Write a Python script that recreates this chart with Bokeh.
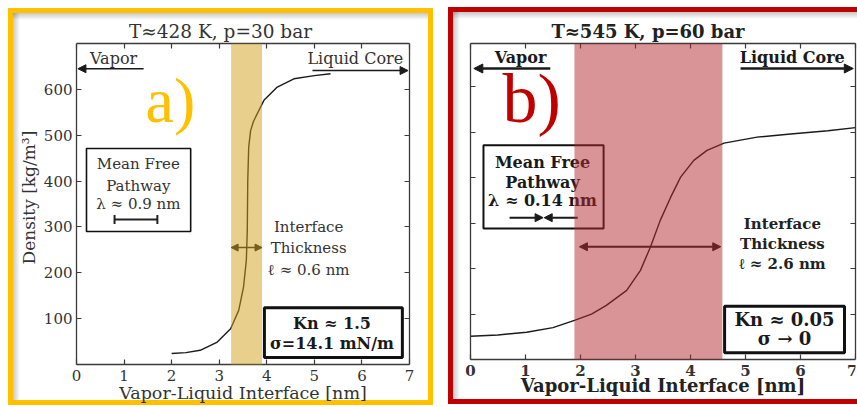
from bokeh.plotting import figure
from bokeh.models import (Range1d, FixedTicker, LinearAxis, BoxAnnotation, Label,
                          Arrow, NormalHead, TeeHead)
from bokeh.layouts import row
from bokeh.embed import file_html
from bokeh.resources import INLINE

# ---------------- data ----------------
x_ticks = [0, 1, 2, 3, 4, 5, 6, 7]
y_ticks = [100, 200, 300, 400, 500, 600]
x_title = "Vapor-Liquid Interface [nm]"
y_title = "Density [kg/m³]"

# panel a) T~428 K, p=30 bar
a_pos = [2.0, 2.3, 2.6, 2.96, 3.24, 3.41, 3.51, 3.57, 3.59, 3.60, 3.62, 3.66,
         3.72, 3.80, 3.94, 4.22, 4.57, 5.0, 5.34]
a_density = [24, 26, 31, 49, 78, 118, 168, 227, 292, 401, 474, 510,
             530, 547, 576, 605, 623, 630, 634]
a_interface = [3.25, 3.9]
a_mfp = [0.8, 1.7]

# panel b) T~545 K, p=60 bar
b_pos = [0.0, 0.5, 1.02, 1.5, 1.89, 2.2, 2.47, 2.84, 3.09, 3.27, 3.45, 3.64,
         3.82, 4.06, 4.30, 4.61, 5.21, 5.82, 6.5, 7.0]
b_density = [51, 54, 60, 70, 86, 100, 119, 152, 196, 247, 306, 357,
             401, 438, 460, 476, 489, 496, 503, 510]
b_interface = [1.89, 4.58]

SERIF = "DejaVu Serif"
TXT = "#333333"
H = 407


def frame_css(color, bars, shadows):
    """CSS background layers drawing a coloured panel border and a soft inner shadow."""
    imgs, sizes, pos = [], [], []
    for (x, y, w, h) in bars:
        imgs.append(f"linear-gradient({color}, {color})")
        sizes.append(f"{w}px {h}px")
        pos.append(f"{x}px {y}px")
    for (x, y, w, h, d) in shadows:
        imgs.append(f"linear-gradient(to {d}, rgba(0,0,0,0.22), rgba(0,0,0,0))")
        sizes.append(f"{w}px {h}px")
        pos.append(f"{x}px {y}px")
    return {"background-image": ", ".join(imgs),
            "background-size": ", ".join(sizes),
            "background-position": ", ".join(pos),
            "background-repeat": "no-repeat",
            "background-color": "white"}


def make_fig(width, mb, xr, yr, styles, title, tsize, tbold, toffset):
    p = figure(width=width, height=H, x_range=Range1d(*xr), y_range=Range1d(*yr),
               output_backend="svg", toolbar_location=None,
               min_border_left=mb[0], min_border_right=mb[1],
               min_border_top=mb[2], min_border_bottom=mb[3],
               outline_line_color=None, background_fill_color=None,
               border_fill_color=None, styles=styles, title=title)
    p.title.align = "center"
    p.title.text_font = SERIF
    p.title.text_font_size = tsize
    p.title.text_font_style = "bold" if tbold else "normal"
    p.title.text_color = "#222222" if tbold else TXT
    p.title.offset = toffset
    p.title.standoff = 3
    p.xgrid.visible = False
    p.ygrid.visible = False
    return p


def style_axis(ax, ticks, label_size, bold=False, hidden=False, bounds=None):
    ax.ticker = FixedTicker(ticks=ticks)
    if bounds is not None:
        ax.bounds = bounds
    ax.major_tick_in = 5
    ax.major_tick_out = 0
    ax.minor_tick_line_color = None
    ax.axis_line_color = "#3a3a3a"
    ax.axis_line_width = 1.3
    ax.major_tick_line_color = "#3a3a3a"
    ax.major_tick_line_width = 1.2
    ax.major_label_text_font = SERIF
    ax.major_label_text_font_size = label_size
    ax.major_label_text_color = TXT
    ax.major_label_text_font_style = "bold" if bold else "normal"
    ax.major_label_standoff = 3
    if hidden:
        ax.major_label_overrides = {t: "" for t in ticks}
        ax.major_label_text_color = None
        ax.major_label_standoff = 0


def title_axis(p, side, pos, text, size, standoff, bold=False, vertical=False,
               color=TXT):
    """An axis drawn at data 0 that carries only one label: the axis title."""
    ax = LinearAxis(fixed_location=0, ticker=FixedTicker(ticks=[pos]),
                    major_label_overrides={pos: text})
    ax.axis_line_color = None
    ax.major_tick_line_color = None
    ax.minor_tick_line_color = None
    ax.major_label_text_font = SERIF
    ax.major_label_text_font_size = size
    ax.major_label_text_font_style = "bold" if bold else "normal"
    ax.major_label_text_color = color
    ax.major_label_standoff = standoff
    if vertical:
        ax.major_label_orientation = "vertical"
    p.add_layout(ax, side)


def lab(p, x, y, text, size, bold=False, color=TXT, align="center",
        baseline="middle", font=SERIF):
    p.add_layout(Label(x=x, y=y, text=text, text_font=font,
                       text_font_size=f"{size}px",
                       text_font_style="bold" if bold else "normal",
                       text_color=color, text_align=align,
                       text_baseline=baseline))


def arrow(p, x0, y0, x1, y1, lw, hs, double=False, color="#1a1a1a"):
    end = NormalHead(size=hs, fill_color=color, line_color=color)
    start = NormalHead(size=hs, fill_color=color, line_color=color) if double else None
    p.add_layout(Arrow(start=start, end=end, x_start=x0, y_start=y0, x_end=x1, y_end=y1,
                       line_width=lw, line_color=color))


def box(p, l, r, t, b, lw):
    p.add_layout(BoxAnnotation(left=l, right=r, top=t, bottom=b,
                               fill_color="white", fill_alpha=1.0,
                               line_color="#111111", line_alpha=1.0, line_width=lw))


# ---------------- panel a ----------------
# plot box in canvas pixels: x 76..409, y 43..364; the frame reaches the canvas
# left, right and bottom edges so that the fixed axes and their labels stay inside it
W_A = 440
A_L, A_R, A_T, A_B = 76, 409, 43, 364
a_sx = (A_R - A_L) / 7.0
a_sy = (A_B - A_T) / 700.0
css_a = frame_css("#FFC000",
                  [(8, 8, 425, 5), (8, 400, 425, 5), (8, 8, 5, 397), (428, 8, 5, 397)],
                  [(13, 13, 415, 7, "bottom"), (13, 13, 7, 387, "right")])
pa = make_fig(W_A, (0, 0, A_T, 0),
              (-A_L / a_sx, 7 + (W_A - A_R) / a_sx), (-(H - A_B) / a_sy, 700), css_a,
              "T≈428 K, p=30 bar", "18.5px", False, 246.5 - W_A / 2.0)

xa = pa.xaxis[0]
style_axis(xa, x_ticks, "15px", bounds=(0, 7))
xa.fixed_location = 0
xa.major_label_standoff = 5
ya = pa.yaxis[0]
style_axis(ya, y_ticks, "15px", bounds=(0, 700))
ya.fixed_location = 0
ya.major_label_standoff = 4
title_axis(pa, "below", 3.5, x_title, "17.5px", 12)
title_axis(pa, "left", 364, y_title, "17px", 31, vertical=True)

top_a = LinearAxis(); style_axis(top_a, x_ticks, "15px", hidden=True, bounds=(0, 7))
right_a = LinearAxis(fixed_location=7)
style_axis(right_a, y_ticks, "15px", hidden=True, bounds=(0, 700))
pa.add_layout(top_a, "above")
pa.add_layout(right_a, "right")

pa.line(a_pos, a_density, line_color="#1a1a1a", line_width=1.4)

# mean free path box
box(pa, 0.21, 2.40, 471, 290, 1.6)
lab(pa, 1.30, 438, "Mean Free", 15)
lab(pa, 1.30, 390, "Pathway", 15)
lab(pa, 1.30, 351, "λ ≈ 0.9 nm", 15)
pa.add_layout(Arrow(start=TeeHead(size=9, line_width=2, line_color="#222"),
                    end=TeeHead(size=9, line_width=2, line_color="#222"),
                    x_start=a_mfp[0], y_start=316, x_end=a_mfp[1], y_end=316,
                    line_width=2, line_color="#222"))

# Kn box
box(pa, 3.95, 6.85, 124, 15, 3)
lab(pa, 5.37, 89, "Kn ≈ 1.5", 16, bold=True, color="#1a1a1a")
lab(pa, 5.37, 46, "σ=14.1 mN/m", 16, bold=True, color="#1a1a1a")

# vapor / liquid
lab(pa, 0.78, 667, "Vapor", 16)
arrow(pa, 1.41, 645, 0.03, 645, 1.6, 8)
lab(pa, 5.86, 667, "Liquid Core", 16)
arrow(pa, 4.96, 641, 6.97, 641, 1.6, 8)

# interface thickness
arrow(pa, a_interface[0], 255, a_interface[1], 255, 1.6, 7, double=True)
lab(pa, 4.88, 299, "Interface", 15)
lab(pa, 4.88, 255, "Thickness", 15)
lab(pa, 4.88, 207, "ℓ ≈ 0.6 nm", 15)

# band on top
pa.add_layout(BoxAnnotation(left=a_interface[0], right=a_interface[1], bottom=0, top=700,
                            fill_color="#D1A119", fill_alpha=0.5, line_color=None,
                            level="overlay"))

lab(pa, 1.45, 576, "a)", 64, color="#FFC000", align="left", baseline="alphabetic",
    font="Liberation Serif")

# ---------------- panel b ----------------
W_B = 417
B_L, B_R, B_T, B_B = 30, 415, 43, 359
b_sx = (B_R - B_L) / 7.0
b_sy = (B_B - B_T) / 695.0
css_b = frame_css("#C00000",
                  [(8, 7, 420, 5), (8, 399, 420, 5), (8, 7, 5, 397)],
                  [(13, 12, 410, 7, "bottom"), (13, 12, 7, 387, "right")])
pb = make_fig(W_B, (0, W_B - B_R, B_T, 0),
              (-B_L / b_sx, 7), (-(H - B_B) / b_sy, 695), css_b,
              "T≈545 K, p=60 bar", "18px", True, 225 - B_R / 2.0)

xb = pb.xaxis[0]
style_axis(xb, x_ticks, "15px", bold=True, bounds=(0, 7))
xb.fixed_location = 0
xb.major_label_standoff = 5
yb = pb.yaxis[0]
style_axis(yb, y_ticks, "15px", hidden=True, bounds=(0, 695))
yb.fixed_location = 0
title_axis(pb, "below", 3.5, x_title, "18px", 9, bold=True, color="#222222")

top_b = LinearAxis(); style_axis(top_b, x_ticks, "15px", hidden=True, bounds=(0, 7))
right_b = LinearAxis(); style_axis(right_b, y_ticks, "15px", hidden=True, bounds=(0, 695))
pb.add_layout(top_b, "above")
pb.add_layout(right_b, "right")

pb.line(b_pos, b_density, line_color="#1a1a1a", line_width=1.4)

box(pb, 0.236, 2.42, 471, 288, 2)
lab(pb, 1.31, 433, "Mean Free", 16, bold=True, color="#1a1a1a")
lab(pb, 1.31, 389, "Pathway", 16, bold=True, color="#1a1a1a")
lab(pb, 1.31, 350, "λ ≈ 0.14 nm", 16, bold=True, color="#1a1a1a")
arrow(pb, 0.71, 312, 1.32, 312, 2, 8)
arrow(pb, 1.95, 312, 1.34, 312, 2, 8)

box(pb, 4.62, 6.80, 117, 15, 3)
lab(pb, 5.71, 88, "Kn ≈ 0.05", 18, bold=True, color="#1a1a1a")
lab(pb, 5.71, 47, "σ → 0", 18, bold=True, color="#1a1a1a")

lab(pb, 0.91, 664, "Vapor", 16, bold=True, color="#1a1a1a")
arrow(pb, 1.45, 640, 0.06, 640, 2.5, 9)
lab(pb, 5.85, 664, "Liquid Core", 16, bold=True, color="#1a1a1a")
arrow(pb, 4.91, 640, 6.96, 640, 2.5, 9)

arrow(pb, 1.98, 248, 4.55, 248, 2, 8, double=True)
lab(pb, 5.67, 299, "Interface", 15, bold=True, color="#222")
lab(pb, 5.67, 253, "Thickness", 15, bold=True, color="#222")
lab(pb, 5.67, 209, "ℓ ≈ 2.6 nm", 15, bold=True, color="#222")

pb.add_layout(BoxAnnotation(left=b_interface[0], right=b_interface[1], bottom=0, top=695,
                            fill_color="#B22A2E", fill_alpha=0.5, line_color=None,
                            level="overlay"))

lab(pb, 0.58, 574, "b)", 70, color="#C00000", align="left", baseline="alphabetic",
    font="Liberation Serif")

layout = row(pa, pb)
open("out.html", "w").write(file_html(layout, INLINE))
